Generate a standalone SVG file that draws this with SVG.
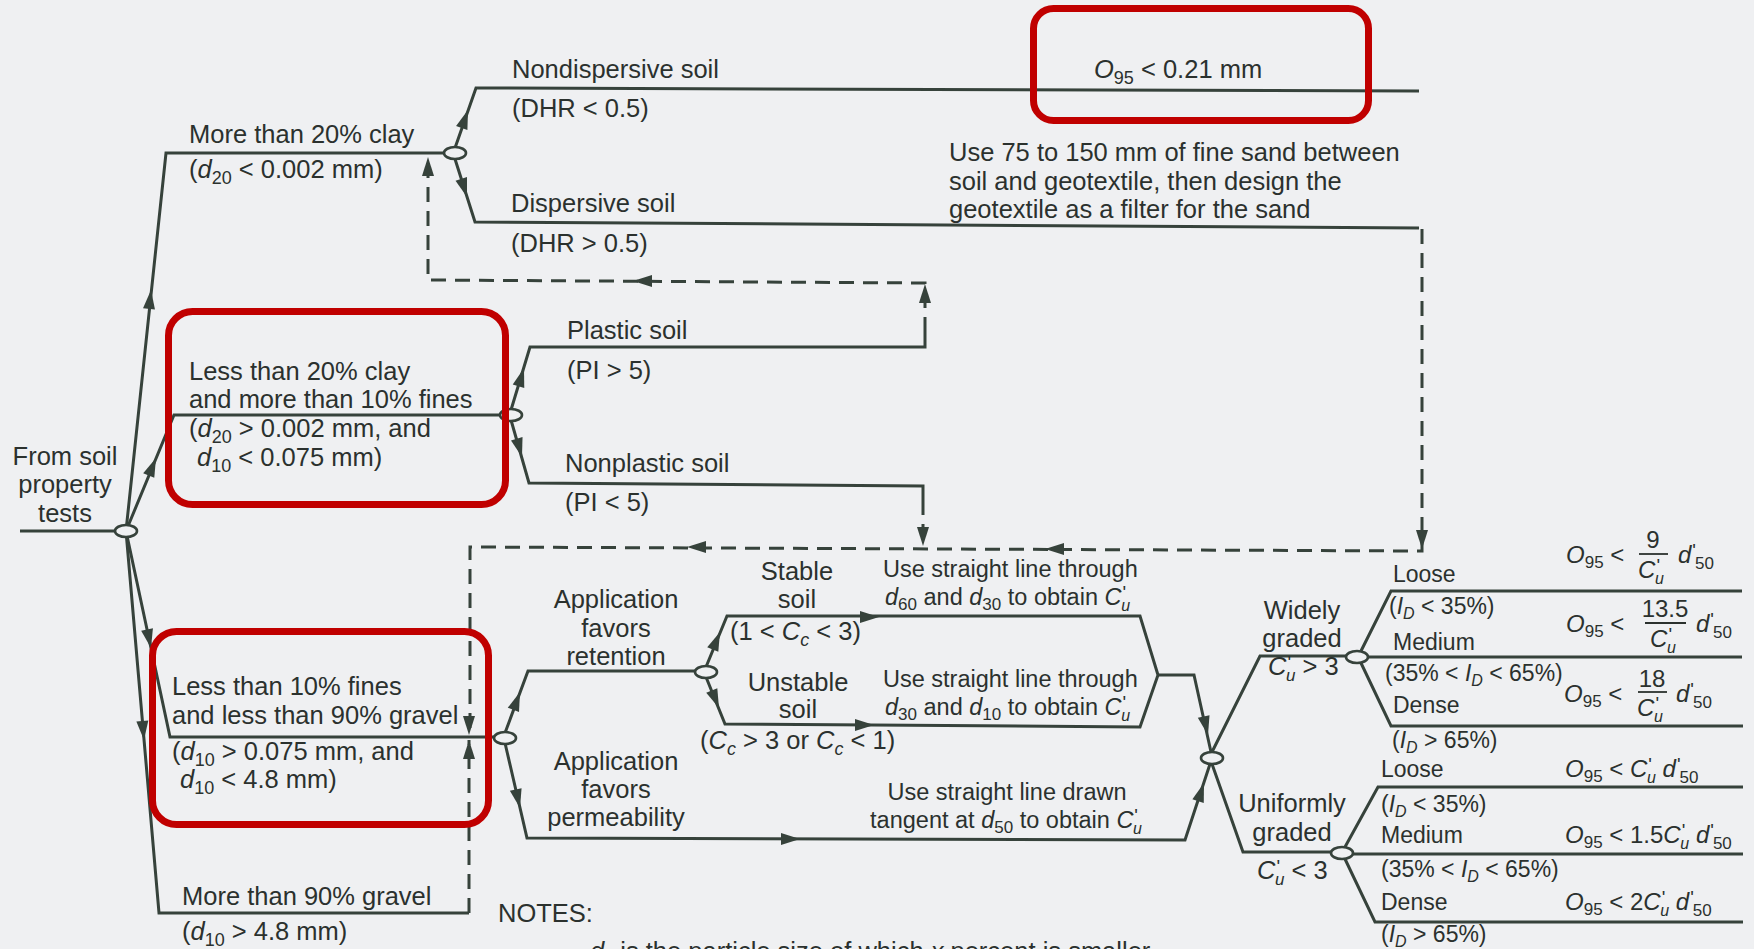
<svg xmlns="http://www.w3.org/2000/svg" width="1754" height="949" viewBox="0 0 1754 949">
<defs>
<style>
.ln{fill:none;stroke:#36423b;stroke-width:3;stroke-linejoin:miter}
.ds{fill:none;stroke:#36423b;stroke-width:3;stroke-dasharray:15 9}
.jn{fill:#eff0f2;stroke:#36423b;stroke-width:2.6}
.hl{fill:none;stroke:#c00000;stroke-width:7}
.bar{stroke:#2b312e;stroke-width:1.8}
text{font-family:"Liberation Sans",Arial,sans-serif;fill:#2b312e}
.t{font-size:25.5px}
.u{font-size:23.5px}
.r{font-size:23px}
.f{font-size:24px}
.i{font-style:italic}
.p{font-size:19px}
</style>
<path id="ah" d="M0,0 L-19,-6 L-19,6 Z" fill="#36423b"/>
</defs>
<rect x="0" y="0" width="1754" height="949" fill="#eff0f2"/>

<g id="connectors">
<path class="ln" d="M20,531 H115"/>
<path class="ln" d="M126,531 L166,153 H444"/>
<path class="ln" d="M126,531 L174,415 H500"/>
<path class="ln" d="M126,531 L170,737 H494"/>
<path class="ln" d="M126,531 L159,913 H469"/>
<path class="ln" d="M455,148 L476,88 L1419,91"/>
<path class="ln" d="M455,159 L475,222 L1419,228"/>
<path class="ln" d="M511,410 L530,347 H925 V332"/>
<path class="ln" d="M511,420 L529,483 L923,486 V500"/>
<path class="ln" d="M505,733 L528,671 H696"/>
<path class="ln" d="M505,743 L527,838 L1185,840 L1210,764"/>
<path class="ln" d="M706,667 L727,616 H1140 L1158,675 L1140,727 L725,724 L706,677"/>
<path class="ln" d="M1158,675 H1194 L1211,752"/>
<path class="ln" d="M1212,752 L1260,656 H1346"/>
<path class="ln" d="M1212,764 L1243,852 H1331"/>
<path class="ln" d="M1361,651 L1391,591 H1742"/>
<path class="ln" d="M1368,657 H1742"/>
<path class="ln" d="M1361,663 L1391,726 H1743"/>
<path class="ln" d="M1345,847 L1378,787 H1743"/>
<path class="ln" d="M1353,854 H1743"/>
<path class="ln" d="M1345,859 L1375,922 H1743"/>
<path class="ds" d="M1422,229 V551 L470,547 V735"/>
<path class="ds" d="M469,913 V740"/>
<path class="ds" d="M923,500 V546"/>
<path class="ds" d="M925,332 V283 L428,280 V158"/>
<use href="#ah" transform="translate(151,290) rotate(-84)"/>
<use href="#ah" transform="translate(156,458) rotate(-67.5)"/>
<use href="#ah" transform="translate(151,648) rotate(78)"/>
<use href="#ah" transform="translate(144,740) rotate(85)"/>
<use href="#ah" transform="translate(468,110) rotate(-70.7)"/>
<use href="#ah" transform="translate(467,197) rotate(72.4)"/>
<use href="#ah" transform="translate(428,157) rotate(-90)"/>
<use href="#ah" transform="translate(633,281) rotate(180)"/>
<use href="#ah" transform="translate(925,284) rotate(-90)"/>
<use href="#ah" transform="translate(524,368) rotate(-73.2)"/>
<use href="#ah" transform="translate(522,457) rotate(74)"/>
<use href="#ah" transform="translate(923,546) rotate(90)"/>
<use href="#ah" transform="translate(687,547) rotate(180)"/>
<use href="#ah" transform="translate(1045,549) rotate(180)"/>
<use href="#ah" transform="translate(1422,549) rotate(90)"/>
<use href="#ah" transform="translate(469,735) rotate(90)"/>
<use href="#ah" transform="translate(469,740) rotate(-90)"/>
<use href="#ah" transform="translate(520,692) rotate(-69.6)"/>
<use href="#ah" transform="translate(520,808) rotate(77)"/>
<use href="#ah" transform="translate(800,839) rotate(0)"/>
<use href="#ah" transform="translate(720,632) rotate(-67.6)"/>
<use href="#ah" transform="translate(719,708) rotate(67.6)"/>
<use href="#ah" transform="translate(879,617) rotate(0)"/>
<use href="#ah" transform="translate(874,725) rotate(0)"/>
<use href="#ah" transform="translate(1208,735) rotate(76.8)"/>
<use href="#ah" transform="translate(1204,783) rotate(-71.8)"/>
</g>

<g id="n-origin">
<text class="t" text-anchor="middle"><tspan x="65" y="465">From soil</tspan><tspan x="65" y="493">property</tspan><tspan x="65" y="522">tests</tspan></text>
<ellipse class="jn" cx="126" cy="531" rx="11" ry="6"/>
</g>

<g id="n-clay">
<text class="t" x="189" y="143">More than 20% clay</text>
<text class="t" x="189" y="178">(<tspan class="i">d</tspan><tspan font-size="18" dy="6">20</tspan><tspan dy="-6"> &lt; 0.002 mm)</tspan></text>
<ellipse class="jn" cx="455" cy="153" rx="11" ry="6"/>
</g>

<g id="n-nondispersive">
<text class="t" x="512" y="78">Nondispersive soil</text>
<text class="t" x="512" y="117">(DHR &lt; 0.5)</text>
</g>

<g id="n-o95">
<text class="t" x="1094" y="78"><tspan class="i">O</tspan><tspan font-size="18" dy="6">95</tspan><tspan dy="-6"> &lt; 0.21 mm</tspan></text>
</g>

<g id="n-dispersive">
<text class="t" x="511" y="212">Dispersive soil</text>
<text class="t" x="511" y="252">(DHR &gt; 0.5)</text>
</g>

<g id="n-sand">
<text class="t"><tspan x="949" y="161">Use 75 to 150 mm of fine sand between</tspan><tspan x="949" y="190">soil and geotextile, then design the</tspan><tspan x="949" y="218">geotextile as a filter for the sand</tspan></text>
</g>

<g id="n-less20">
<text class="t" x="189" y="380">Less than 20% clay</text>
<text class="t" x="189" y="408">and more than 10% fines</text>
<text class="t" x="189" y="437">(<tspan class="i">d</tspan><tspan font-size="18" dy="6">20</tspan><tspan dy="-6"> &gt; 0.002 mm, and</tspan></text>
<text class="t" x="197" y="466"><tspan class="i">d</tspan><tspan font-size="18" dy="6">10</tspan><tspan dy="-6"> &lt; 0.075 mm)</tspan></text>
<ellipse class="jn" cx="511" cy="415" rx="11" ry="6"/>
</g>

<g id="n-plastic">
<text class="t" x="567" y="339">Plastic soil</text>
<text class="t" x="567" y="379">(PI &gt; 5)</text>
</g>

<g id="n-nonplastic">
<text class="t" x="565" y="472">Nonplastic soil</text>
<text class="t" x="565" y="511">(PI &lt; 5)</text>
</g>

<g id="n-less10">
<text class="t" x="172" y="695">Less than 10% fines</text>
<text class="t" x="172" y="724">and less than 90% gravel</text>
<text class="t" x="172" y="760">(<tspan class="i">d</tspan><tspan font-size="18" dy="6">10</tspan><tspan dy="-6"> &gt; 0.075 mm, and</tspan></text>
<text class="t" x="180" y="788"><tspan class="i">d</tspan><tspan font-size="18" dy="6">10</tspan><tspan dy="-6"> &lt; 4.8 mm)</tspan></text>
<ellipse class="jn" cx="505" cy="738" rx="11" ry="6"/>
</g>

<g id="n-gravel90">
<text class="t" x="182" y="905">More than 90% gravel</text>
<text class="t" x="182" y="940">(<tspan class="i">d</tspan><tspan font-size="18" dy="6">10</tspan><tspan dy="-6"> &gt; 4.8 mm)</tspan></text>
</g>

<g id="n-retention">
<text class="t" text-anchor="middle"><tspan x="616" y="608">Application</tspan><tspan x="616" y="637">favors</tspan><tspan x="616" y="665">retention</tspan></text>
<ellipse class="jn" cx="706" cy="672" rx="11" ry="6"/>
</g>

<g id="n-permeability">
<text class="t" text-anchor="middle"><tspan x="616" y="770">Application</tspan><tspan x="616" y="798">favors</tspan><tspan x="616" y="826">permeability</tspan></text>
</g>

<g id="n-stable">
<text class="t" text-anchor="middle"><tspan x="797" y="580">Stable</tspan><tspan x="797" y="608">soil</tspan></text>
<text class="t" x="730" y="640">(1 &lt; <tspan class="i">C</tspan><tspan class="i" font-size="18" dy="6">c</tspan><tspan dy="-6"> &lt; 3)</tspan></text>
</g>

<g id="n-unstable">
<text class="t" text-anchor="middle"><tspan x="798" y="691">Unstable</tspan><tspan x="798" y="718">soil</tspan></text>
<text class="t" x="700" y="749">(<tspan class="i">C</tspan><tspan class="i" font-size="18" dy="6">c</tspan><tspan dy="-6"> &gt; 3 or </tspan><tspan class="i">C</tspan><tspan class="i" font-size="18" dy="6">c</tspan><tspan dy="-6"> &lt; 1)</tspan></text>
</g>

<g id="n-line60">
<text class="u" x="883" y="577">Use straight line through</text>
<text class="u" x="885" y="605"><tspan class="i">d</tspan><tspan font-size="17" dy="5">60</tspan><tspan dy="-5"> and </tspan><tspan class="i">d</tspan><tspan font-size="17" dy="5">30</tspan><tspan dy="-5"> to obtain </tspan><tspan class="i">C</tspan><tspan class="p" dy="-6" dx="1">'</tspan><tspan class="i" font-size="16" dx="-5" dy="12">u</tspan></text>
</g>

<g id="n-line10">
<text class="u" x="883" y="687">Use straight line through</text>
<text class="u" x="885" y="715"><tspan class="i">d</tspan><tspan font-size="17" dy="5">30</tspan><tspan dy="-5"> and </tspan><tspan class="i">d</tspan><tspan font-size="17" dy="5">10</tspan><tspan dy="-5"> to obtain </tspan><tspan class="i">C</tspan><tspan class="p" dy="-6" dx="1">'</tspan><tspan class="i" font-size="16" dx="-5" dy="12">u</tspan></text>
</g>

<g id="n-line50">
<text class="u" x="1007" y="800" text-anchor="middle">Use straight line drawn</text>
<text class="u" x="1006" y="828" text-anchor="middle">tangent at <tspan class="i">d</tspan><tspan font-size="17" dy="5">50</tspan><tspan dy="-5"> to obtain </tspan><tspan class="i">C</tspan><tspan class="p" dy="-6" dx="1">'</tspan><tspan class="i" font-size="16" dx="-5" dy="12">u</tspan></text>
</g>

<g id="n-cu-junction">
<ellipse class="jn" cx="1212" cy="758" rx="11" ry="6"/>
</g>

<g id="n-widely">
<text class="t" text-anchor="middle"><tspan x="1302" y="619">Widely</tspan><tspan x="1302" y="647">graded</tspan></text>
<text class="t" x="1268" y="675"><tspan class="i">C</tspan><tspan class="p" dy="-6" dx="1">'</tspan><tspan class="i" font-size="17" dx="-5" dy="12">u</tspan><tspan dy="-6"> &gt; 3</tspan></text>
<ellipse class="jn" cx="1357" cy="657" rx="11" ry="6"/>
</g>

<g id="n-uniform">
<text class="t" text-anchor="middle"><tspan x="1292" y="812">Uniformly</tspan><tspan x="1292" y="841">graded</tspan></text>
<text class="t" x="1257" y="879"><tspan class="i">C</tspan><tspan class="p" dy="-6" dx="1">'</tspan><tspan class="i" font-size="17" dx="-5" dy="12">u</tspan><tspan dy="-6"> &lt; 3</tspan></text>
<ellipse class="jn" cx="1342" cy="853" rx="11" ry="6"/>
</g>

<g id="n-w-loose">
<text class="r" x="1393" y="582">Loose</text>
<text class="r" x="1389" y="614">(<tspan class="i">I</tspan><tspan class="i" font-size="16" dy="5">D</tspan><tspan dy="-5"> &lt; 35%)</tspan></text>
<text class="f" x="1566" y="563"><tspan class="i">O</tspan><tspan font-size="17" dy="5">95</tspan><tspan dy="-5"> &lt;</tspan></text>
<text class="f" x="1653" y="548" text-anchor="middle">9</text>
<line class="bar" x1="1639" y1="554" x2="1668" y2="554"/>
<text class="f" x="1651" y="578" text-anchor="middle"><tspan class="i">C</tspan><tspan class="p" dy="-6" dx="1">'</tspan><tspan class="i" font-size="16" dx="-5" dy="12">u</tspan></text>
<text class="f" x="1678" y="563"><tspan class="i">d</tspan><tspan class="p" dy="-6" dx="1">'</tspan><tspan font-size="17" dx="-1" dy="12">50</tspan></text>
</g>

<g id="n-w-medium">
<text class="r" x="1393" y="650">Medium</text>
<text class="r" x="1385" y="681">(35% &lt; <tspan class="i">I</tspan><tspan class="i" font-size="16" dy="5">D</tspan><tspan dy="-5"> &lt; 65%)</tspan></text>
<text class="f" x="1566" y="632"><tspan class="i">O</tspan><tspan font-size="17" dy="5">95</tspan><tspan dy="-5"> &lt;</tspan></text>
<text class="f" x="1665" y="617" text-anchor="middle">13.5</text>
<line class="bar" x1="1645" y1="623" x2="1686" y2="623"/>
<text class="f" x="1663" y="647" text-anchor="middle"><tspan class="i">C</tspan><tspan class="p" dy="-6" dx="1">'</tspan><tspan class="i" font-size="16" dx="-5" dy="12">u</tspan></text>
<text class="f" x="1696" y="632"><tspan class="i">d</tspan><tspan class="p" dy="-6" dx="1">'</tspan><tspan font-size="17" dx="-1" dy="12">50</tspan></text>
</g>

<g id="n-w-dense">
<text class="r" x="1393" y="713">Dense</text>
<text class="r" x="1392" y="748">(<tspan class="i">I</tspan><tspan class="i" font-size="16" dy="5">D</tspan><tspan dy="-5"> &gt; 65%)</tspan></text>
<text class="f" x="1564" y="702"><tspan class="i">O</tspan><tspan font-size="17" dy="5">95</tspan><tspan dy="-5"> &lt;</tspan></text>
<text class="f" x="1652" y="687" text-anchor="middle">18</text>
<line class="bar" x1="1638" y1="692" x2="1667" y2="692"/>
<text class="f" x="1650" y="716" text-anchor="middle"><tspan class="i">C</tspan><tspan class="p" dy="-6" dx="1">'</tspan><tspan class="i" font-size="16" dx="-5" dy="12">u</tspan></text>
<text class="f" x="1676" y="702"><tspan class="i">d</tspan><tspan class="p" dy="-6" dx="1">'</tspan><tspan font-size="17" dx="-1" dy="12">50</tspan></text>
</g>

<g id="n-u-loose">
<text class="r" x="1381" y="777">Loose</text>
<text class="r" x="1381" y="812">(<tspan class="i">I</tspan><tspan class="i" font-size="16" dy="5">D</tspan><tspan dy="-5"> &lt; 35%)</tspan></text>
<text class="f" x="1565" y="777"><tspan class="i">O</tspan><tspan font-size="17" dy="5">95</tspan><tspan dy="-5"> &lt; </tspan><tspan class="i">C</tspan><tspan class="p" dy="-6" dx="1">'</tspan><tspan class="i" font-size="16" dx="-5" dy="12">u</tspan><tspan dy="-6"> </tspan><tspan class="i">d</tspan><tspan class="p" dy="-6" dx="1">'</tspan><tspan font-size="17" dx="-1" dy="12">50</tspan></text>
</g>

<g id="n-u-medium">
<text class="r" x="1381" y="843">Medium</text>
<text class="r" x="1381" y="877">(35% &lt; <tspan class="i">I</tspan><tspan class="i" font-size="16" dy="5">D</tspan><tspan dy="-5"> &lt; 65%)</tspan></text>
<text class="f" x="1565" y="843"><tspan class="i">O</tspan><tspan font-size="17" dy="5">95</tspan><tspan dy="-5"> &lt; 1.5</tspan><tspan class="i">C</tspan><tspan class="p" dy="-6" dx="1">'</tspan><tspan class="i" font-size="16" dx="-5" dy="12">u</tspan><tspan dy="-6"> </tspan><tspan class="i">d</tspan><tspan class="p" dy="-6" dx="1">'</tspan><tspan font-size="17" dx="-1" dy="12">50</tspan></text>
</g>

<g id="n-u-dense">
<text class="r" x="1381" y="910">Dense</text>
<text class="r" x="1381" y="942">(<tspan class="i">I</tspan><tspan class="i" font-size="16" dy="5">D</tspan><tspan dy="-5"> &gt; 65%)</tspan></text>
<text class="f" x="1565" y="910"><tspan class="i">O</tspan><tspan font-size="17" dy="5">95</tspan><tspan dy="-5"> &lt; 2</tspan><tspan class="i">C</tspan><tspan class="p" dy="-6" dx="1">'</tspan><tspan class="i" font-size="16" dx="-5" dy="12">u</tspan><tspan dy="-6"> </tspan><tspan class="i">d</tspan><tspan class="p" dy="-6" dx="1">'</tspan><tspan font-size="17" dx="-1" dy="12">50</tspan></text>
</g>

<g id="n-notes">
<text class="t" x="498" y="922">NOTES:</text>
<text class="t" x="590" y="960"><tspan class="i">d</tspan><tspan class="i" font-size="18" dy="6">x</tspan><tspan dy="-6"> is the particle size of which </tspan><tspan class="i">x</tspan> percent is smaller</text>
</g>

<g id="highlights">
<rect class="hl" x="1033.5" y="8.5" width="335" height="112" rx="20"/>
<rect class="hl" x="168.5" y="311.5" width="337" height="193" rx="24"/>
<rect class="hl" x="152.5" y="631.5" width="336" height="193" rx="24"/>
</g>
</svg>
